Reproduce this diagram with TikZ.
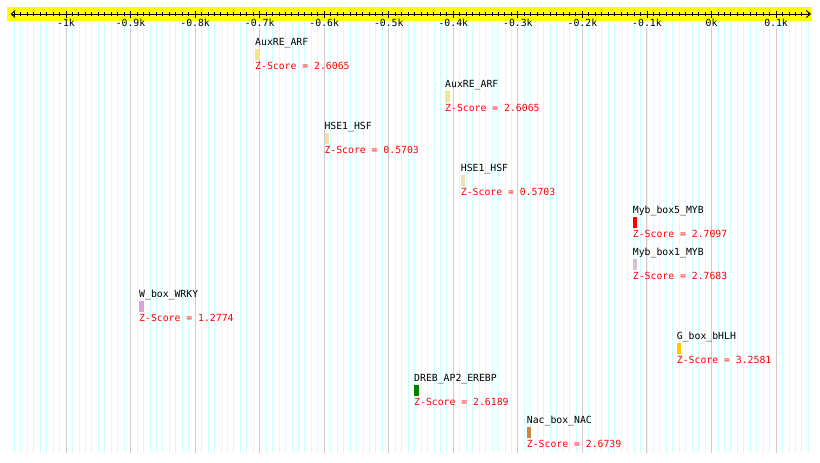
\documentclass[tikz,border=0pt]{standalone}
\usepackage{fontspec}
\setmonofont{DejaVu Sans Mono}
\usepackage{tikz}
\usetikzlibrary{positioning,arrows.meta}
\definecolor{axisyellow}{RGB}{255, 255, 0}
\definecolor{gridcyan}{RGB}{204, 255, 255}
\definecolor{gridgray}{RGB}{204, 204, 204}
\definecolor{scorered}{RGB}{255, 0, 0}
\definecolor{arfkhaki}{RGB}{240, 230, 140}
\definecolor{hsfwheat}{RGB}{245, 222, 179}
\definecolor{mybred}{RGB}{255, 0, 0}
\definecolor{mybthistle}{RGB}{216, 191, 216}
\definecolor{wrkyplum}{RGB}{221, 160, 221}
\definecolor{bhlhgold}{RGB}{255, 204, 0}
\definecolor{drebgreen}{RGB}{0, 128, 0}
\definecolor{nacperu}{RGB}{205, 133, 63}

\begin{document}
\begin{tikzpicture}[
    x=1pt, y=-1pt,
    font=\ttfamily\fontsize{9.8}{10}\selectfont,
    motif/.style={rectangle, inner sep=0pt, minimum width=4.5pt, minimum height=10.5pt,
                  anchor=north west},
    tfname/.style={inner sep=0pt, text height=7pt, text depth=1pt, color=black},
    zscore/.style={inner sep=0pt, text height=7pt, text depth=1pt, color=scorered},
    ticklabel/.style={inner sep=0pt, anchor=base},
    minorgrid/.style={gridcyan, line width=0.8pt},
    majorgrid/.style={gridgray, line width=1pt},
    axisline/.style={{Straight Barb[length=4pt,width=7pt]}-{Straight Barb[length=4pt,width=7pt]}, line width=0.9pt}
]
    \useasboundingbox (0,0) rectangle (820,463);

    % Axis band and grid
    \fill[axisyellow] (7,6.7) rectangle (812,20.7);
    \foreach \k in {-108,...,15}{
        \draw[minorgrid] ({711.5+6.455*\k},21) -- ({711.5+6.455*\k},453);
        \draw[line width=0.9pt] ({711.5+6.455*\k},12) -- ({711.5+6.455*\k},16);
    }
    \foreach \k/\lab in {-10/-1k, -9/-0.9k, -8/-0.8k, -7/-0.7k, -6/-0.6k, -5/-0.5k,
                         -4/-0.4k, -3/-0.3k, -2/-0.2k, -1/-0.1k, 0/0k, 1/0.1k}{
        \draw[majorgrid] ({711.5+64.55*\k},28) -- ({711.5+64.55*\k},453);
        \draw[line width=0.9pt] ({711.5+64.55*\k},10.5) -- ({711.5+64.55*\k},17.5);
        \node[ticklabel] (tick\k) at ({711.5+64.55*\k},27) {\lab};
    }
    \coordinate (axisL) at (10.5,14);
    \coordinate (axisR) at (811,14);
    \draw[axisline] (axisL) -- (axisR);

    % Motif boxes
    \node[motif, fill=arfkhaki]   (arf1)  at (255,49)   {};
    \node[motif, fill=arfkhaki]   (arf2)  at (445,91)   {};
    \node[motif, fill=hsfwheat]   (hsf1)  at (324.3,133) {};
    \node[motif, fill=hsfwheat]   (hsf2)  at (460.7,175) {};
    \node[motif, fill=mybred]     (myb5)  at (632.7,217) {};
    \node[motif, fill=mybthistle] (myb1)  at (632.7,259) {};
    \node[motif, fill=wrkyplum]   (wrky)  at (139,301)   {};
    \node[motif, fill=bhlhgold]   (bhlh)  at (676.7,343) {};
    \node[motif, fill=drebgreen]  (dreb)  at (414,385)   {};
    \node[motif, fill=nacperu]    (nac)   at (526.7,427) {};

    % Names above
    \node[tfname, above right=2pt and 0pt of arf1.north west] (arf1name) {AuxRE\_ARF};
    \node[tfname, above right=2pt and 0pt of arf2.north west] (arf2name) {AuxRE\_ARF};
    \node[tfname, above right=2pt and 0pt of hsf1.north west] (hsf1name) {HSE1\_HSF};
    \node[tfname, above right=2pt and 0pt of hsf2.north west] (hsf2name) {HSE1\_HSF};
    \node[tfname, above right=2pt and 0pt of myb5.north west] (myb5name) {Myb\_box5\_MYB};
    \node[tfname, above right=2pt and 0pt of myb1.north west] (myb1name) {Myb\_box1\_MYB};
    \node[tfname, above right=2pt and 0pt of wrky.north west] (wrkyname) {W\_box\_WRKY};
    \node[tfname, above right=2pt and 0pt of bhlh.north west] (bhlhname) {G\_box\_bHLH};
    \node[tfname, above right=2pt and 0pt of dreb.north west] (drebname) {DREB\_AP2\_EREBP};
    \node[tfname, above right=2pt and 0pt of nac.north west]  (nacname)  {Nac\_box\_NAC};

    % Scores below
    \node[zscore, below right=2pt and 0pt of arf1.south west] (arf1z) {Z-Score = 2.6065};
    \node[zscore, below right=2pt and 0pt of arf2.south west] (arf2z) {Z-Score = 2.6065};
    \node[zscore, below right=2pt and 0pt of hsf1.south west] (hsf1z) {Z-Score = 0.5703};
    \node[zscore, below right=2pt and 0pt of hsf2.south west] (hsf2z) {Z-Score = 0.5703};
    \node[zscore, below right=2pt and 0pt of myb5.south west] (myb5z) {Z-Score = 2.7097};
    \node[zscore, below right=2pt and 0pt of myb1.south west] (myb1z) {Z-Score = 2.7683};
    \node[zscore, below right=2pt and 0pt of wrky.south west] (wrkyz) {Z-Score = 1.2774};
    \node[zscore, below right=2pt and 0pt of bhlh.south west] (bhlhz) {Z-Score = 3.2581};
    \node[zscore, below right=2pt and 0pt of dreb.south west] (drebz) {Z-Score = 2.6189};
    \node[zscore, below right=2pt and 0pt of nac.south west]  (nacz)  {Z-Score = 2.6739};
\end{tikzpicture}
\end{document}
